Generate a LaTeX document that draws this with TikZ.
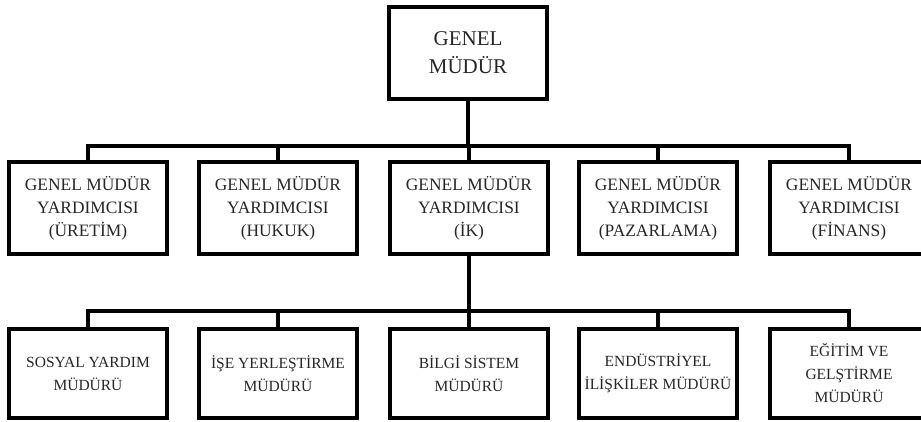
\documentclass[tikz,border=0pt]{standalone}
\usepackage{fontspec}
\setmainfont{Liberation Serif}
\usetikzlibrary{calc}

\begin{document}
\begin{tikzpicture}[x=1pt, y=-1pt]  % 1 unit = 1 pixel of the chart, y downwards

    % Define some common styles
    \tikzset{
        unitbox/.style={draw=black, line width=3.2pt, align=center, text=black!85, inner sep=0pt, minimum width=158pt},
        headbox/.style={unitbox, minimum height=92pt, font=\fontsize{21}{28}\selectfont},
        deputybox/.style={unitbox, minimum height=92pt, font=\fontsize{17.4}{23}\selectfont},
        managerbox/.style={unitbox, minimum height=89pt, font=\fontsize{15.5}{23}\selectfont},
        link/.style={line width=3.2pt}
    }

    % Page size of the chart
    \useasboundingbox (0,0) rectangle (921,421);

    % General manager
    \node[headbox] (gm) at (468,53) {GENEL\\MÜDÜR};

    % Deputy general managers
    \node[deputybox] (uretim) at (88,208)  {GENEL MÜDÜR\\YARDIMCISI\\(ÜRETİM)};
    \node[deputybox] (hukuk)  at (278,208) {GENEL MÜDÜR\\YARDIMCISI\\(HUKUK)};
    \node[deputybox] (ik)     at (469,208) {GENEL MÜDÜR\\YARDIMCISI\\(İK)};
    \node[deputybox] (pazar)  at (658,208) {GENEL MÜDÜR\\YARDIMCISI\\(PAZARLAMA)};
    \node[deputybox] (finans) at (849,208) {GENEL MÜDÜR\\YARDIMCISI\\(FİNANS)};

    % Managers under HR
    \node[managerbox] (sosyal)  at (88,373.5)  {SOSYAL YARDIM\\MÜDÜRÜ};
    \node[managerbox] (yerles)  at (278,373.5) {İŞE YERLEŞTİRME\\MÜDÜRÜ};
    \node[managerbox] (bilgi)   at (469,373.5) {BİLGİ SİSTEM\\MÜDÜRÜ};
    \node[managerbox] (endustri) at (658,373.5) {ENDÜSTRİYEL\\İLİŞKİLER MÜDÜRÜ};
    \node[managerbox] (egitim)  at (849,373.5) {EĞİTİM VE\\GELŞTİRME\\MÜDÜRÜ};

    % Bus lines
    \coordinate (topbus) at (468,146);
    \coordinate (ikbus) at (468,311);

    % Connectors: general manager to deputies
    \draw[link] (gm.south) -- (gm.south |- topbus);
    \draw[link] (uretim.north) -- (uretim.north |- topbus) -| (finans.north);
    \draw[link] (hukuk.north) -- (hukuk.north |- topbus);
    \draw[link] (ik.north) -- (ik.north |- topbus);
    \draw[link] (pazar.north) -- (pazar.north |- topbus);

    % Connectors: HR deputy to managers
    \draw[link] (ik.south) -- (ik.south |- ikbus);
    \draw[link] (sosyal.north) -- (sosyal.north |- ikbus) -| (egitim.north);
    \draw[link] (yerles.north) -- (yerles.north |- ikbus);
    \draw[link] (bilgi.north) -- (bilgi.north |- ikbus);
    \draw[link] (endustri.north) -- (endustri.north |- ikbus);

\end{tikzpicture}
\end{document}
